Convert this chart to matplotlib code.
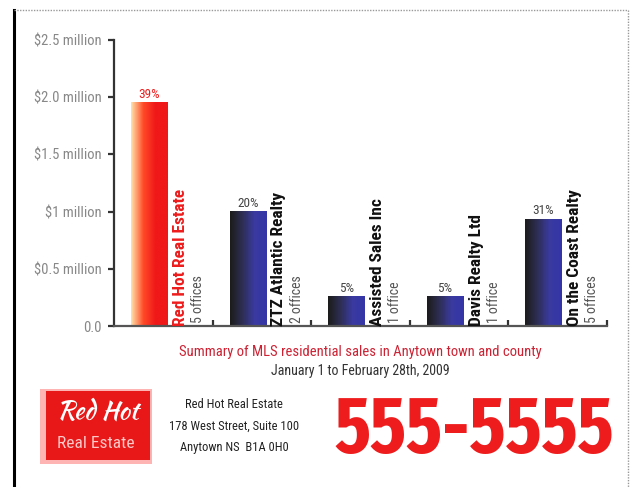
import numpy as np
import matplotlib
matplotlib.use("Agg")
import matplotlib.pyplot as plt
from matplotlib.colors import LinearSegmentedColormap
from matplotlib.lines import Line2D
from matplotlib.patches import Rectangle

# data
companies = ["Red Hot Real Estate", "ZTZ Atlantic Realty", "Assisted Sales Inc",
             "Davis Realty Ltd", "On the Coast Realty"]
offices = ["5 offices", "2 offices", "1 office", "1 office", "5 offices"]
sales = [1.95, 1.0, 0.26, 0.26, 0.935]   # $ million
shares = ["39%", "20%", "5%", "5%", "31%"]
yticks = [0, 0.5, 1.0, 1.5, 2.0, 2.5]
ylabels = ["0.0", "$0.5 million", "$1 million", "$1.5 million", "$2.0 million", "$2.5 million"]

NARROW = ["Roboto Condensed", "DejaVu Sans"]
RED = "#ee1c1c"

W, H = 631, 487
fig = plt.figure(figsize=(W / 100, H / 100), dpi=100)

def px(x, y):
    return x / W, 1 - y / H

# frame around the ad
fig.add_artist(Line2D([14 / W, 14 / W], [1 - 10 / H, 0], color="black", lw=2.2))
fig.add_artist(Line2D([14 / W, 628 / W], [1 - 10 / H] * 2, color="#999999", lw=1, ls=(0, (1, 1))))
fig.add_artist(Line2D([628 / W] * 2, [1 - 10 / H, 0], color="#999999", lw=1, ls=(0, (1, 1))))

ax = fig.add_axes([114 / W, (H - 326) / H, (607 - 114) / W, (326 - 40) / H])
ax.set_xlim(0, 5)
ax.set_ylim(0, 2.5)
for s in ["top", "right"]:
    ax.spines[s].set_visible(False)
ax.spines["left"].set_color("#333333")
ax.spines["bottom"].set_color("#555555")
ax.spines["left"].set_linewidth(1.6)
ax.spines["bottom"].set_linewidth(1.6)
ax.set_yticks(yticks)
ax.set_yticklabels(ylabels, family=NARROW, fontsize=10.5, color="#888888")
ax.tick_params(axis="y", length=4, width=1.6, color="#333333", pad=5)
ax.set_xticks(range(1, 6))
ax.set_xticklabels([])
ax.tick_params(axis="x", direction="in", length=4, width=1.6, color="#333333")

pos = np.arange(5) + 0.357
bars = ax.bar(pos, sales, width=0.37, color="none", edgecolor="none")
cm_red = LinearSegmentedColormap.from_list("r", ["#ffe0a8", "#ff4a28", "#f01818", "#f01818"])
cm_blue = LinearSegmentedColormap.from_list("b", ["#1c1c1c", "#2e2e55", "#3a3aa0", "#3535a8"])
grad = np.linspace(0, 1, 64).reshape(1, -1)
for i, b in enumerate(bars):
    x0, w, h = b.get_x(), b.get_width(), b.get_height()
    ax.imshow(grad, extent=[x0, x0 + w, 0, h], aspect="auto",
              cmap=cm_red if i == 0 else cm_blue, zorder=2)
    ax.text(x0 + w / 2, h + 0.015, shares[i], ha="center", va="bottom",
            family=NARROW, fontsize=9.5, color=RED if i == 0 else "#444444")
    ax.text(x0 + w + 0.13, 0.0, companies[i], rotation=90, ha="center", va="bottom",
            family=NARROW, fontsize=12.5, fontweight="bold",
            color=RED if i == 0 else "#111111")
    ax.text(x0 + w + 0.31, 0.03, offices[i], rotation=90, ha="center", va="bottom",
            family=NARROW, fontsize=10, color="#555555")

# captions
fig.text(*px(360, 352), "Summary of MLS residential sales in Anytown town and county",
         ha="center", va="center", family=NARROW, fontsize=10.5, color="#cc2233")
fig.text(*px(360, 371), "January 1 to February 28th, 2009",
         ha="center", va="center", family=NARROW, fontsize=10, color="#333333")

# logo
fig.add_artist(Rectangle(px(40, 464), 112 / W, 75 / H, facecolor="#ffb4b4", edgecolor="none"))
fig.add_artist(Rectangle(px(46, 460), 104 / W, 69 / H, facecolor="#e81818", edgecolor="none"))
fig.text(*px(98, 413), "Red Hot", ha="center", va="center", fontsize=18.5,
         fontstyle="italic", fontweight="bold", color="white",
         family=["Kaushan Script", "Pacifico", "DejaVu Serif"])
fig.text(*px(96, 443), "Real Estate", ha="center", va="center", fontsize=12.5,
         family=NARROW, color="#ffc8c8")

for y, line in zip([405, 426, 447], ["Red Hot Real Estate", "178 West Street, Suite 100",
                                     "Anytown NS  B1A 0H0"]):
    fig.text(*px(234, y), line, ha="center", va="center", family=NARROW,
             fontsize=9, color="#222222")

fig.text(*px(474, 431), "555-5555", ha="center", va="center",
         family=["Fira Sans Extra Condensed", "Roboto Condensed", "DejaVu Sans"],
         fontsize=57, fontweight="bold", color=RED)

fig.savefig("out.png", dpi=100)
